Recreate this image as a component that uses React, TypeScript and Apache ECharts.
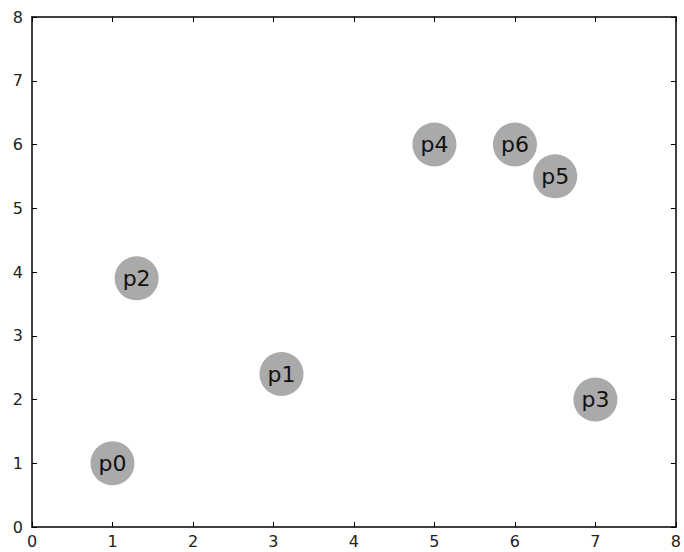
import React, { useEffect, useRef } from "react";
import * as echarts from "echarts";

const names = ["p0", "p1", "p2", "p3", "p4", "p5", "p6"];
const xs = [1, 3.1, 1.3, 7, 5, 6.5, 6];
const ys = [1, 2.4, 3.9, 2, 6, 5.5, 6];

export default function App() {
  const ref = useRef<HTMLDivElement>(null);
  useEffect(() => {
    const chart = echarts.init(ref.current!, null, { renderer: "svg" });
    const axisCommon = {
      min: 0,
      max: 8,
      interval: 1,
      splitLine: { show: false },
      axisLine: { show: true, onZero: false, lineStyle: { color: "#000", width: 1.5 } },
      axisTick: { show: true, inside: true, length: 5, lineStyle: { color: "#000", width: 1 } },
    };
    const labelStyle = { color: "#222", fontSize: 16, fontFamily: "DejaVu Sans" };
    chart.setOption({
      animation: false,
      backgroundColor: "#fff",
      grid: { left: 32, right: 3, top: 17, bottom: 25, containLabel: false },
      xAxis: [
        {
          ...axisCommon,
          type: "value",
          position: "bottom",
          axisLabel: { ...labelStyle, margin: 6 },
        },
        {
          ...axisCommon,
          type: "value",
          position: "top",
          axisLabel: { show: false },
        },
      ],
      yAxis: [
        {
          ...axisCommon,
          type: "value",
          position: "left",
          axisLabel: { ...labelStyle, margin: 9 },
        },
        {
          ...axisCommon,
          type: "value",
          position: "right",
          axisLabel: { show: false },
        },
      ],
      series: [
        {
          type: "scatter",
          xAxisIndex: 0,
          yAxisIndex: 0,
          symbolSize: 44,
          itemStyle: { color: "#aaaaaa", opacity: 1 },
          label: {
            show: true,
            position: "inside",
            formatter: (p: any) => p.data[2],
            color: "#111",
            fontSize: 22,
            fontFamily: "DejaVu Sans",
          },
          data: names.map((n, i) => [xs[i], ys[i], n]),
        },
      ],
    });
    return () => chart.dispose();
  }, []);
  return <div ref={ref} style={{ width: 684, height: 552, position: "absolute", left: 0, top: 0 }} />;
}
